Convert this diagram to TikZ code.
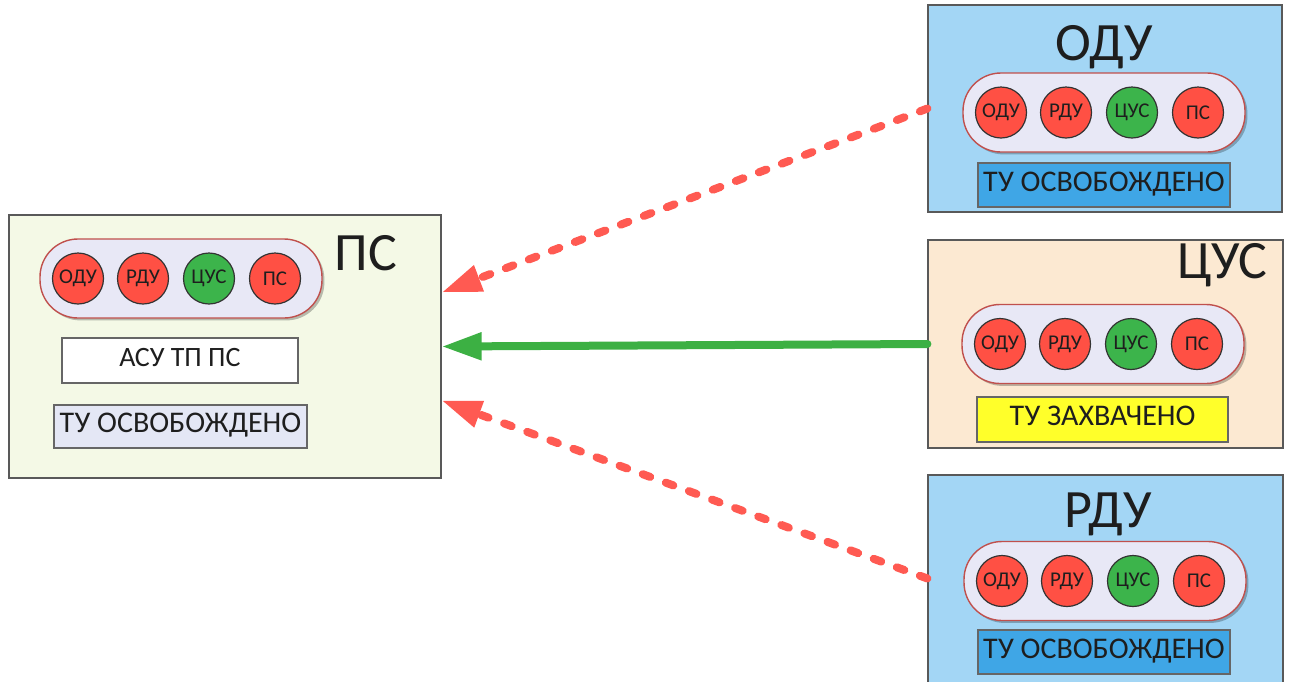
\documentclass[tikz,border=0pt]{standalone}
\usepackage{fontspec}
\setmainfont{Carlito}
\usetikzlibrary{arrows.meta,shadows}
\definecolor{psfill}{HTML}{F4F9E6}
\definecolor{odufill}{HTML}{A3D6F5}
\definecolor{cusfill}{HTML}{FCE9D2}
\definecolor{boxblue}{HTML}{3FA6E6}
\definecolor{boxyellow}{HTML}{FFFF2A}
\definecolor{boxlav}{HTML}{E4E7F5}
\definecolor{pillfill}{HTML}{E8E8F6}
\definecolor{pilldraw}{HTML}{C0504D}
\definecolor{lampred}{HTML}{FF5044}
\definecolor{lampgreen}{HTML}{3CB44B}
\definecolor{arrred}{HTML}{FF5A52}
\definecolor{arrgreen}{HTML}{3CB043}
\definecolor{txt}{HTML}{1E1E1E}
\tikzset{
  panel/.style={draw=black!65, line width=0.6pt, inner sep=0pt},
  pill/.style={draw=pilldraw, line width=0.7pt, fill=pillfill, rounded corners=19pt,
    minimum width=141pt, minimum height=39.5pt, inner sep=0pt,
    drop shadow={shadow xshift=1.2pt, shadow yshift=-1.2pt, opacity=0.25, fill=black}},
  lamp/.style={circle, draw=black!80, line width=0.6pt, minimum size=25.5pt, inner sep=0pt,
    font=\fontsize{10.5}{11}\selectfont, text=txt},
  lampR/.style={lamp, fill=lampred},
  lampG/.style={lamp, fill=lampgreen},
  title/.style={anchor=base, inner sep=0pt, font=\fontsize{27}{30}\selectfont, text=txt},
  statebox/.style={draw=black!60, line width=0.6pt, inner sep=0pt, text=txt,
    font=\fontsize{15}{17}\selectfont, text height=0.64em, text depth=0pt},
  redarrow/.style={draw=arrred, line width=4pt, line cap=round, dash pattern=on 4pt off 8.3pt,
    -{Triangle[length=20pt,width=13pt]}},
  greenarrow/.style={draw=arrgreen, line width=4pt, line cap=round,
    -{Triangle[length=20pt,width=13pt]}},
}
\newcommand\lampset[3]{%
  \node[pill] (#1-pill) at (#2,#3) {};
  \node[lampR] (#1-odu) at ([xshift=-51.5pt]#1-pill.center) {ОДУ};
  \node[lampR] (#1-rdu) at ([xshift=-19pt]#1-pill.center) {РДУ};
  \node[lampG] (#1-cus) at ([xshift=14pt]#1-pill.center) {ЦУС};
  \node[lampR] (#1-ps)  at ([xshift=47pt]#1-pill.center) {ПС};
}
\begin{document}
\begin{tikzpicture}[x=0.5pt, y=-0.5pt]
\useasboundingbox (0,0) rectangle (1290,681);
\clip (0,0) rectangle (1290,681);
\fill[white] (0,0) rectangle (1290,681);

% PS panel
\node[panel, fill=psfill, minimum width=216pt, minimum height=131.5pt] (ps) at (225,346.5) {};
\lampset{p}{181}{278.5}
\node[title] (ps-title) at (366,270) {ПС};
\node[statebox, fill=white, minimum width=118pt, minimum height=22.5pt, font=\fontsize{14}{16}\selectfont] (ps-asu) at (180,360.5) {АСУ ТП ПС};
\node[statebox, fill=boxlav, minimum width=126.5pt, minimum height=21.5pt] (ps-state) at (180.5,426.5) {ТУ ОСВОБОЖДЕНО};

% ODU panel
\node[panel, fill=odufill, minimum width=177pt, minimum height=103.5pt] (odu) at (1105,108.5) {};
\node[title] (odu-title) at (1104,60) {ОДУ};
\lampset{o}{1104}{112.5}
\node[statebox, fill=boxblue, minimum width=126pt, minimum height=22pt] (odu-state) at (1104,185) {ТУ ОСВОБОЖДЕНО};

% CUS panel
\node[panel, fill=cusfill, minimum width=177.5pt, minimum height=104pt] (cus) at (1105.5,344) {};
\node[title] (cus-title) at (1222,278) {ЦУС};
\lampset{c}{1103}{344}
\node[statebox, fill=boxyellow, minimum width=125.5pt, minimum height=22.5pt] (cus-state) at (1102.5,419.5) {ТУ ЗАХВАЧЕНО};

% RDU panel
\node[panel, fill=odufill, minimum width=177.5pt, minimum height=107.5pt] (rdu) at (1105.5,582.5) {};
\node[title] (rdu-title) at (1108,527) {РДУ};
\lampset{r}{1105}{581}
\node[statebox, fill=boxblue, minimum width=126pt, minimum height=22pt] (rdu-state) at (1104,652) {ТУ ОСВОБОЖДЕНО};

% connectors
\draw[redarrow] (odu.west) -- ([yshift=27pt]ps.east);
\draw[greenarrow] (cus.west) -- (ps.east);
\draw[redarrow] ([yshift=2pt]rdu.west) -- ([yshift=-27pt]ps.east);
\end{tikzpicture}
\end{document}
